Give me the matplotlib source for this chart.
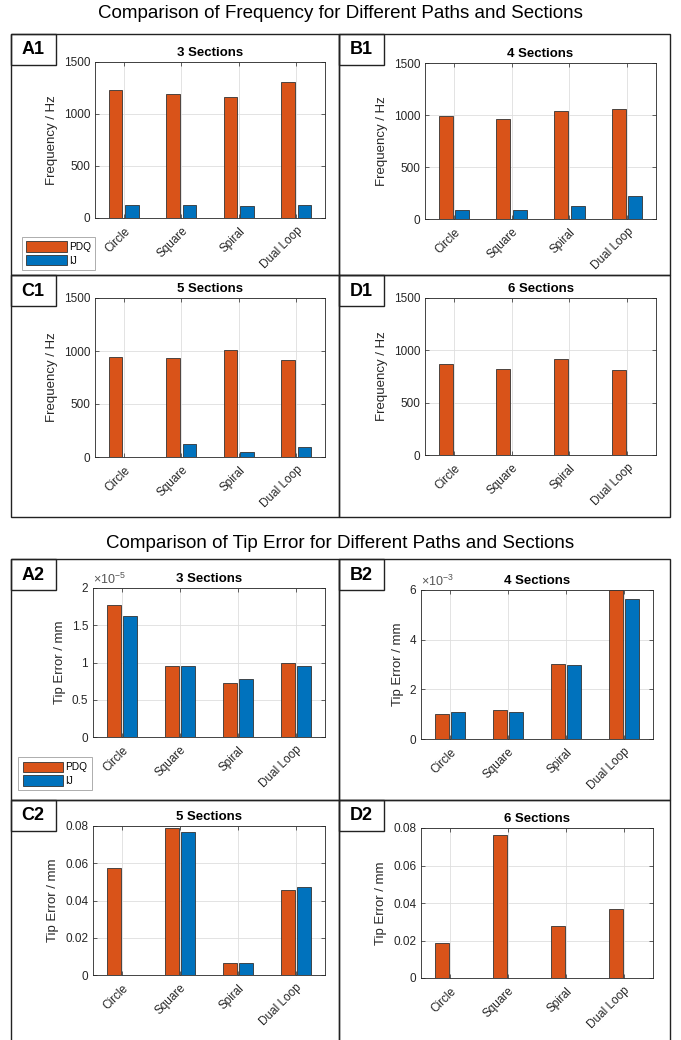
import numpy as np
import matplotlib
matplotlib.use('Agg')
import matplotlib.pyplot as plt
from matplotlib.patches import Rectangle, Patch
from matplotlib.ticker import FuncFormatter, MultipleLocator

plt.rcParams['font.family'] = ['Liberation Sans', 'DejaVu Sans']
plt.rcParams['mathtext.fontset'] = 'custom'
plt.rcParams['mathtext.rm'] = 'Liberation Sans'
plt.rcParams['mathtext.it'] = 'Liberation Sans:italic'

# データ
paths = ['Circle', 'Square', 'Spiral', 'Dual Loop']
series = ['PDQ', 'IJ']

# Frequency / Hz
freq_pdq_3 = [1235, 1190, 1165, 1308]
freq_ij_3 = [128, 124, 112, 128]
freq_pdq_4 = [986, 957, 1034, 1060]
freq_ij_4 = [87, 87, 122, 218]
freq_pdq_5 = [941, 932, 1014, 916]
freq_ij_5 = [0, 123, 44, 95]
freq_pdq_6 = [868, 823, 919, 811]
freq_ij_6 = [0, 0, 0, 0]

# Tip error / mm
err_pdq_3 = [1.767e-5, 0.953e-5, 0.729e-5, 0.998e-5]
err_ij_3 = [1.62e-5, 0.953e-5, 0.774e-5, 0.953e-5]
err_pdq_4 = [1.02e-3, 1.18e-3, 3.01e-3, 6.0e-3]
err_ij_4 = [1.07e-3, 1.07e-3, 2.97e-3, 5.65e-3]
err_pdq_5 = [0.0577, 0.0791, 0.0066, 0.0454]
err_ij_5 = [0.0, 0.0766, 0.00625, 0.0471]
err_pdq_6 = [0.0189, 0.0764, 0.0279, 0.0366]
err_ij_6 = [0.0, 0.0, 0.0, 0.0]

ORANGE = '#D95319'
BLUE = '#0072BD'
DARK = '#262626'

W, H = 681, 1040
fig = plt.figure(figsize=(W / 100, H / 100), dpi=100)


def frac(l, t, r, b):
    return [l / W, 1 - b / H, (r - l) / W, (b - t) / H]


def panel_box(l, t, r, b, tag):
    fig.add_artist(Rectangle((l / W, 1 - b / H), (r - l) / W, (b - t) / H,
                             transform=fig.transFigure, fill=False, ec='#222222', lw=1.0))
    fig.add_artist(Rectangle((l / W, 1 - (t + 31) / H), 45 / W, 31 / H,
                             transform=fig.transFigure, fill=False, ec='#222222', lw=1.0))
    fig.text((l + 22.5) / W, 1 - (t + 16) / H, tag, ha='center', va='center',
             fontsize=13, fontweight='bold')


def draw_bars(rect, pdq, ij, title, ylabel, ymax, ystep, scale=None, exp=None):
    ax = fig.add_axes(frac(*rect))
    x = np.arange(len(paths))
    ax.bar(x - 0.143, pdq, 0.24, color=ORANGE, ec='#333333', lw=0.6, zorder=3)
    ax.bar(x + 0.143, ij, 0.24, color=BLUE, ec='#333333', lw=0.6, zorder=3)
    ax.set_xlim(-0.5, 3.5)
    ax.set_ylim(0, ymax)
    ax.yaxis.set_major_locator(MultipleLocator(ystep))
    if scale is not None:
        ax.yaxis.set_major_formatter(FuncFormatter(lambda v, p: f'{v / scale:g}'))
        ax.text(0, 1.01, r'$\times$10$^{' + str(exp) + '}$', transform=ax.transAxes,
                ha='left', va='bottom', fontsize=9, color='#555555')
    else:
        ax.yaxis.set_major_formatter(FuncFormatter(lambda v, p: f'{v:g}'))
    ax.set_xticks(x)
    ax.set_xticklabels(paths, rotation=45, ha='right', va='top', rotation_mode='anchor')
    ax.tick_params(direction='in', length=3, width=0.5, top=True, right=True,
                   colors=DARK, labelsize=8.5)
    ax.tick_params(axis='x', pad=5)
    for s in ax.spines.values():
        s.set_color(DARK)
        s.set_linewidth(0.6)
    ax.grid(True, color='#dedede', lw=0.6)
    ax.set_axisbelow(True)
    ax.set_title(title, fontsize=9.5, fontweight='bold', pad=4)
    ax.set_ylabel(ylabel, fontsize=9.5, color=DARK, labelpad=4)
    return ax


def add_legend(l, t):
    handles = [Patch(facecolor=ORANGE, edgecolor='#333333', lw=0.6),
               Patch(facecolor=BLUE, edgecolor='#333333', lw=0.6)]
    leg = fig.legend(handles, series, loc='upper left', bbox_to_anchor=(l / W, 1 - t / H),
                     fontsize=7.3, handlelength=4.0, handleheight=1.2, frameon=True,
                     fancybox=False, edgecolor='#888888', borderpad=0.45,
                     labelspacing=0.3, handletextpad=0.2, borderaxespad=0)
    leg.get_frame().set_linewidth(0.6)


# 上段: 周波数
fig.text(340 / W, 1 - 14 / H, 'Comparison of Frequency for Different Paths and Sections',
         ha='center', va='center', fontsize=13.5)
panel_box(10.5, 34, 339, 275, 'A1')
panel_box(339, 34, 670, 275, 'B1')
panel_box(10.5, 275, 339, 517, 'C1')
panel_box(339, 275, 670, 517, 'D1')

draw_bars((95, 62, 325, 218), freq_pdq_3, freq_ij_3, '3 Sections', 'Frequency / Hz', 1500, 500)
draw_bars((425, 63, 656, 219), freq_pdq_4, freq_ij_4, '4 Sections', 'Frequency / Hz', 1500, 500)
draw_bars((95, 298, 325, 457), freq_pdq_5, freq_ij_5, '5 Sections', 'Frequency / Hz', 1500, 500)
draw_bars((425, 298, 656, 455), freq_pdq_6, freq_ij_6, '6 Sections', 'Frequency / Hz', 1500, 500)
add_legend(21.7, 236.7)

# 下段: 先端誤差
fig.text(340 / W, 1 - 543 / H, 'Comparison of Tip Error for Different Paths and Sections',
         ha='center', va='center', fontsize=13.5)
panel_box(10.5, 559, 339, 800, 'A2')
panel_box(339, 559, 670, 800, 'B2')
panel_box(10.5, 800, 339, 1045, 'C2')
panel_box(339, 800, 670, 1045, 'D2')

draw_bars((93, 588, 325, 737), err_pdq_3, err_ij_3, '3 Sections', 'Tip Error / mm', 2e-5, 0.5e-5, 1e-5, -5)
draw_bars((421, 590, 653, 739), err_pdq_4, err_ij_4, '4 Sections', 'Tip Error / mm', 6e-3, 2e-3, 1e-3, -3)
draw_bars((93, 826, 325, 975), err_pdq_5, err_ij_5, '5 Sections', 'Tip Error / mm', 0.08, 0.02)
draw_bars((421, 828, 653, 978), err_pdq_6, err_ij_6, '6 Sections', 'Tip Error / mm', 0.08, 0.02)
add_legend(18, 757)

fig.savefig('out.png', dpi=100)
